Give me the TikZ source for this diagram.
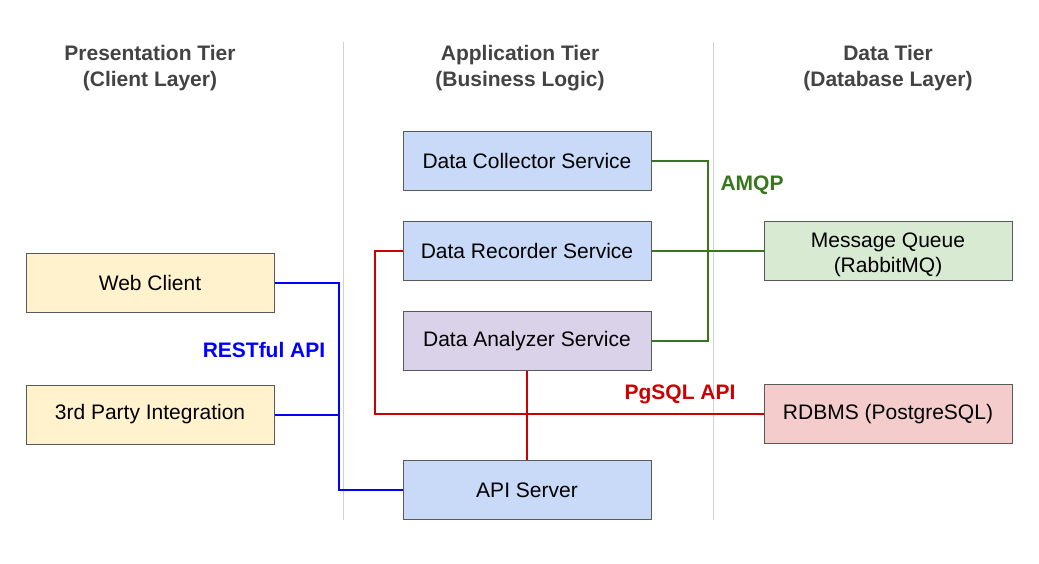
\documentclass[tikz,border=0pt]{standalone}
\usepackage{fontspec}
\setmainfont{Liberation Sans}
\usepackage{tikz}

\definecolor{svcblue}{HTML}{C9DAF8}
\definecolor{svcpurple}{HTML}{D9D2E9}
\definecolor{clientyellow}{HTML}{FFF2CC}
\definecolor{dbgreen}{HTML}{D9EAD3}
\definecolor{dbred}{HTML}{F4CCCC}
\definecolor{boxborder}{HTML}{595959}
\definecolor{headgray}{HTML}{434343}
\definecolor{sepgray}{HTML}{D0D0D0}
\definecolor{restblue}{HTML}{0000FF}
\definecolor{amqpgreen}{HTML}{38761D}
\definecolor{pgred}{HTML}{CC0000}

\begin{document}
\begin{tikzpicture}[x=1pt, y=-1pt,
  every node/.style={font=\fontsize{21}{25}\selectfont},
  tierbox/.style={draw=boxborder, line width=1pt, minimum width=248pt, minimum height=59pt, inner sep=0pt, align=center},
  tierhead/.style={font=\fontsize{21}{26}\selectfont\bfseries, text=headgray, align=center},
  linklabel/.style={font=\fontsize{21}{26}\selectfont\bfseries},
  link/.style={line width=2pt}]
\useasboundingbox (0,0) rectangle (1039,563);
% tier separators
\draw[sepgray, line width=1pt] (343,42) -- (343,520);
\draw[sepgray, line width=1pt] (713,42) -- (713,520);
% headers
\node[tierhead] (H1) at (150,68) {Presentation Tier\\(Client Layer)};
\node[tierhead] (H2) at (520,68) {Application Tier\\(Business Logic)};
\node[tierhead] (H3) at (888,68) {Data Tier\\(Database Layer)};
% client layer
\node[tierbox, fill=clientyellow] (WEB) at (150,283) {Web Client};
\node[tierbox, fill=clientyellow] (THIRD) at (150,414.5) {3rd Party Integration};
% business logic
\node[tierbox, fill=svcblue] (COLL) at (527,161) {Data Collector Service};
\node[tierbox, fill=svcblue] (REC) at (527,251) {Data Recorder Service};
\node[tierbox, fill=svcpurple] (ANA) at (527,341) {Data Analyzer Service};
\node[tierbox, fill=svcblue] (API) at (527,490) {API Server};
% database layer
\node[tierbox, fill=dbgreen] (MQ) at (888,251) {\raisebox{-3.5pt}[\height][\depth]{\parbox{240pt}{\centering Message Queue\\(RabbitMQ)}}};
\node[tierbox, fill=dbred] (DB) at (888,414) {RDBMS (PostgreSQL)};
% bus coordinates
\coordinate (RESTBUS) at (339,0);
\coordinate (AMQPBUS) at (708,0);
\coordinate (PGBUS) at (375,0);
% RESTful API
\draw[link, restblue] (WEB.east) -- (WEB.east -| RESTBUS) |- (API.west);
\draw[link, restblue] (THIRD.east) -- (THIRD.east -| RESTBUS);
\node[linklabel, text=restblue] (L1) at (264,350) {RESTful API};
% AMQP
\draw[link, amqpgreen] (COLL.east) -- (COLL.east -| AMQPBUS) |- (ANA.east);
\draw[link, amqpgreen] (REC.east) -- (MQ.west);
\node[linklabel, text=amqpgreen] (L2) at (752,185) {AMQP};
% PgSQL API
\draw[link, pgred] (REC.west) -- (REC.west -| PGBUS) |- (DB.west);
\draw[link, pgred] (ANA.south) -- (API.north);
\node[linklabel, text=pgred] (L3) at (680,394) {PgSQL API};
\end{tikzpicture}
\end{document}
